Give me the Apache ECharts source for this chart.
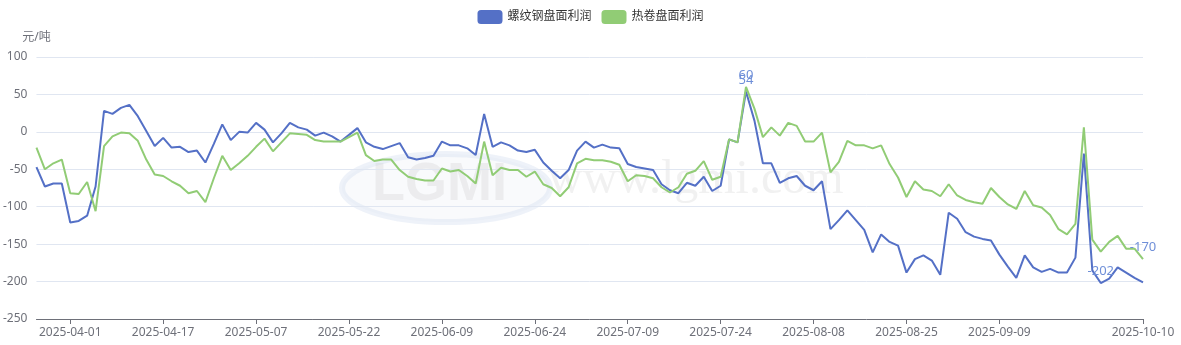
<!DOCTYPE html>
<html>
<head>
<meta charset="utf-8">
<script src="https://cdn.jsdelivr.net/npm/echarts@6/dist/echarts.min.js"></script>
<style>
html,body{margin:0;padding:0;background:#fff;}
#chart{width:1181px;height:345px;}
</style>
</head>
<body>
<div id="chart"></div>
<script>
const dates = [
'2025-03-26','2025-03-27','2025-03-28','2025-03-31',
'2025-04-01','2025-04-02','2025-04-03','2025-04-07','2025-04-08','2025-04-09','2025-04-10','2025-04-11','2025-04-14','2025-04-15','2025-04-16','2025-04-17','2025-04-18','2025-04-21','2025-04-22','2025-04-23','2025-04-24','2025-04-25','2025-04-28','2025-04-29','2025-04-30',
'2025-05-06','2025-05-07','2025-05-08','2025-05-09','2025-05-12','2025-05-13','2025-05-14','2025-05-15','2025-05-16','2025-05-19','2025-05-20','2025-05-21','2025-05-22','2025-05-23','2025-05-26','2025-05-27','2025-05-28','2025-05-29','2025-05-30',
'2025-06-03','2025-06-04','2025-06-05','2025-06-06','2025-06-09','2025-06-10','2025-06-11','2025-06-12','2025-06-13','2025-06-16','2025-06-17','2025-06-18','2025-06-19','2025-06-20','2025-06-23','2025-06-24','2025-06-25','2025-06-26','2025-06-27','2025-06-30',
'2025-07-01','2025-07-02','2025-07-03','2025-07-04','2025-07-07','2025-07-08','2025-07-09','2025-07-10','2025-07-11','2025-07-14','2025-07-15','2025-07-16','2025-07-17','2025-07-18','2025-07-21','2025-07-22','2025-07-23','2025-07-24','2025-07-25','2025-07-28','2025-07-29','2025-07-30','2025-07-31',
'2025-08-01','2025-08-04','2025-08-05','2025-08-06','2025-08-07','2025-08-08','2025-08-11','2025-08-12','2025-08-13','2025-08-14','2025-08-15','2025-08-18','2025-08-19','2025-08-20','2025-08-21','2025-08-22','2025-08-25','2025-08-26','2025-08-27','2025-08-28','2025-08-29',
'2025-09-01','2025-09-02','2025-09-03','2025-09-04','2025-09-05','2025-09-08','2025-09-09','2025-09-10','2025-09-11','2025-09-12','2025-09-15','2025-09-16','2025-09-17','2025-09-18','2025-09-19','2025-09-22','2025-09-23','2025-09-24','2025-09-25','2025-09-26','2025-09-29','2025-09-30',
'2025-10-09','2025-10-10'
];

const rebarProfit = [
-47,-73,-69,-69,-121,-119,-112,-73,28,24,32,36,21,1,-19,-8,-21,-20,-27,-25,-41,-16,10,-11,
0,-1,12,3,-14,-2,12,6,3,-5,-1,-6,-13,-4,5,-14,-20,-23,-19,-15,-34,-37,
-35,-32,-13,-18,-18,-22,-31,24,-20,-14,-18,-25,-27,-24,-41,-52,-62,-51,-25,-13,-21,-17,-21,-22,
-43,-47,-49,-51,-70,-78,-82,-68,-72,-60,-79,-72,-10,-14,54,15,-42,-42,-68,-62,-59,-72,-78,-66,
-130,-118,-105,-118,-131,-161,-137,-147,-152,-188,-170,-165,-172,-191,-108,-116,-134,-140,-143,-145,
-164,-180,-195,-165,-181,-187,-183,-188,-188,-168,-29,-185,-202,-196,-181,-188,-195,-201
];

const hotCoilProfit = [
-21,-50,-42,-37,-82,-83,-67,-106,-19,-6,-1,-2,-12,-37,-57,-59,-66,-72,-82,-79,-94,-62,-32,-51,
-42,-32,-20,-9,-26,-14,-2,-3,-4,-11,-13,-13,-13,-7,-1,-31,-39,-37,-37,-51,-60,-63,
-65,-65,-49,-53,-51,-59,-69,-13,-58,-48,-51,-51,-60,-53,-70,-75,-86,-74,-42,-36,-38,-38,-40,-44,
-66,-58,-59,-62,-74,-81,-74,-56,-52,-39,-64,-60,-10,-14,60,31,-7,6,-5,12,8,-13,-13,-1,
-54,-40,-12,-18,-18,-22,-18,-43,-61,-87,-66,-77,-79,-86,-70,-85,-91,-94,-96,-75,
-87,-97,-103,-79,-98,-101,-111,-130,-137,-123,6,-144,-160,-147,-139,-156,-156,-170
];

const seriesNames = ['螺纹钢盘面利润', '热卷盘面利润'];
const yTicks = { min: -250, max: 100, interval: 50 };
const yUnit = '元/吨';

const FONT = "'Noto Sans', 'Noto Sans CJK SC', sans-serif";
const lastIdx = dates.length - 1;
const showLabel = function (i) {
  return (i % 11 === 4 && i + 11 <= lastIdx) || i === lastIdx;
};

const chart = echarts.init(document.getElementById('chart'));
const mp = {
  symbol: 'circle',
  symbolSize: 0,
  label: { position: 'top', color: '#6f8fd8', fontSize: 13, fontFamily: FONT, distance: 5 },
  data: [{ type: 'max' }, { type: 'min' }]
};

chart.setOption({
  animation: false,
  backgroundColor: '#fff',
  textStyle: { fontFamily: FONT },
  graphic: [
    {
      type: 'ellipse', silent: true, z: 0,
      shape: { cx: 446, cy: 188, rx: 104, ry: 34 },
      style: { fill: 'rgba(225,232,242,0.2)', stroke: 'rgba(205,218,238,0.35)', lineWidth: 6 }
    },
    {
      type: 'text', silent: true, z: 0, left: 372, top: 158,
      style: { text: 'LGMI', fill: 'rgba(205,205,205,0.3)', font: 'bold 54px "Liberation Sans"' }
    },
    {
      type: 'text', silent: true, z: 0, left: 548, top: 156,
      style: { text: 'www.lgmi.com', fill: 'rgba(200,200,200,0.25)', font: '48px "Liberation Serif"' }
    }
  ],
  legend: {
    top: 5,
    left: 'center',
    icon: 'roundRect',
    itemWidth: 25,
    itemHeight: 14,
    itemGap: 10,
    textStyle: { fontSize: 12, color: '#333', fontFamily: FONT },
    data: seriesNames
  },
  grid: { left: 36, right: 38, top: 57, bottom: 26, containLabel: false },
  xAxis: {
    type: 'category',
    boundaryGap: false,
    data: dates,
    axisLine: { onZero: false, lineStyle: { color: '#6E7079' } },
    axisTick: { interval: showLabel, lineStyle: { color: '#6E7079' } },
    axisLabel: { interval: showLabel, color: '#6E7079', fontSize: 12, fontFamily: FONT, margin: 8 }
  },
  yAxis: {
    type: 'value',
    name: yUnit,
    nameTextStyle: { color: '#6E7079', fontSize: 12, fontFamily: FONT, align: 'center' },
    nameGap: 13,
    min: yTicks.min,
    max: yTicks.max,
    interval: yTicks.interval,
    axisLabel: { color: '#6E7079', fontSize: 12, fontFamily: FONT, margin: 9 },
    splitLine: { lineStyle: { color: '#E0E6F1' } }
  },
  series: [
    {
      name: seriesNames[0], type: 'line', data: rebarProfit,
      showSymbol: false, symbol: 'none',
      lineStyle: { width: 2, color: '#5470c6' }, itemStyle: { color: '#5470c6' },
      markPoint: mp
    },
    {
      name: seriesNames[1], type: 'line', data: hotCoilProfit,
      showSymbol: false, symbol: 'none',
      lineStyle: { width: 2, color: '#91cc75' }, itemStyle: { color: '#91cc75' },
      markPoint: mp
    }
  ]
});
</script>
</body>
</html>
